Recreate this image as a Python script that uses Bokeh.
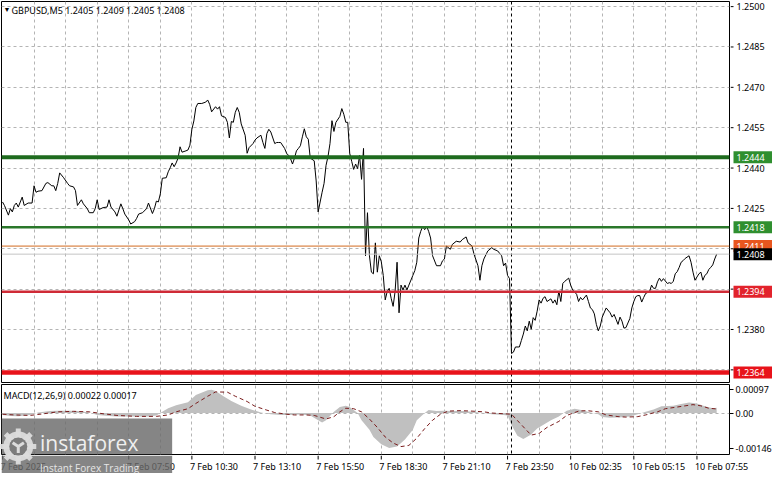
from bokeh.plotting import figure
from bokeh.models import Range1d, Label, Span, FixedTicker, BoxAnnotation
from bokeh.layouts import column, row
from bokeh.core.properties import value
from bokeh.embed import file_html
from bokeh.resources import INLINE

FONT = "Noto Sans"
FS = "9px"

chart_title = "GBPUSD,M5  1.2405 1.2409 1.2405 1.2408"
macd_title = "MACD(12,26,9) 0.00022 0.00017"

# ---- price line (bar index, close) ----
bars = [0, 1, 3, 4, 5, 6, 7, 8, 10, 11, 13, 15, 16, 17, 18, 20, 22, 23, 25, 26, 27, 28, 29, 31, 33, 34, 36, 37, 38,
        40, 41, 43, 44, 46, 47, 48, 49, 51, 53, 54, 55, 57, 58, 60, 61, 62, 64, 65, 67, 68, 69, 71, 73, 74, 76, 77,
        78, 79, 80, 81, 83, 84, 85, 86, 87, 88, 89, 90, 91, 93, 94, 95, 96, 97, 98, 99, 101, 103, 104, 105, 106,
        108, 109, 110, 111, 113, 114, 115, 116, 117, 118, 119, 120, 121, 123, 124, 125, 127, 128, 129, 131, 132,
        133, 134, 135, 136, 138, 139, 140, 141, 143, 144, 145, 146, 147, 148, 149, 150, 151, 152, 153, 154, 155,
        156, 158, 159, 160, 162, 163, 164, 165, 166, 167, 168, 169, 171, 172, 173, 174, 175, 176, 177, 178, 179,
        180, 181, 182, 183, 184, 185, 186, 187, 188, 189, 190, 191, 192, 193, 194, 195, 196, 197, 198, 199, 200,
        201, 202, 203, 204, 205, 206, 208, 209, 210, 211, 212, 213, 214, 215, 216, 217, 218, 220, 222, 223, 224,
        225, 227, 228, 230, 232, 233, 235, 236, 238, 239, 241, 242, 243, 244, 246, 248, 249, 251, 253, 254, 255,
        256, 257, 258, 259, 260, 262, 263, 264, 265, 266, 267, 268, 269, 270, 271, 272, 273, 274, 275, 276, 278,
        279, 280, 281, 282, 283, 284, 285, 287, 288, 289, 291, 292, 293, 294, 296, 297, 298, 299, 300, 301, 302,
        303, 304, 306, 308, 309, 310, 311, 312, 313, 314, 315, 316, 318, 319, 320, 321, 322, 323, 324, 325, 326,
        328, 329, 330, 331, 332, 333, 334, 335, 337, 338, 339, 340, 341, 342, 343, 344, 345, 346, 348, 349, 350,
        351, 352, 353, 354, 355, 356, 357, 358, 359, 360, 361, 362]
close = [1.24274, 1.24261, 1.24225, 1.24249, 1.24237, 1.24261, 1.24270, 1.24255, 1.24292, 1.24261, 1.24270,
         1.24270, 1.24334, 1.24310, 1.24314, 1.24316, 1.24343, 1.24346, 1.24334, 1.24334, 1.24316, 1.24343,
         1.24382, 1.24364, 1.24343, 1.24334, 1.24330, 1.24316, 1.24261, 1.24282, 1.24267, 1.24249, 1.24234,
         1.24234, 1.24249, 1.24282, 1.24246, 1.24253, 1.24255, 1.24282, 1.24255, 1.24237, 1.24221, 1.24267,
         1.24249, 1.24229, 1.24207, 1.24192, 1.24201, 1.24213, 1.24229, 1.24234, 1.24249, 1.24270, 1.24231,
         1.24249, 1.24277, 1.24274, 1.24304, 1.24362, 1.24364, 1.24386, 1.24401, 1.24419, 1.24405, 1.24419,
         1.24437, 1.24479, 1.24459, 1.24464, 1.24467, 1.24485, 1.24544, 1.24575, 1.24625, 1.24640, 1.24640,
         1.24645, 1.24653, 1.24637, 1.24609, 1.24628, 1.24619, 1.24628, 1.24594, 1.24588, 1.24570, 1.24512,
         1.24573, 1.24570, 1.24607, 1.24625, 1.24607, 1.24564, 1.24522, 1.24455, 1.24476, 1.24491, 1.24504,
         1.24512, 1.24522, 1.24495, 1.24473, 1.24528, 1.24544, 1.24534, 1.24491, 1.24495, 1.24495, 1.24495,
         1.24473, 1.24455, 1.24447, 1.24435, 1.24415, 1.24437, 1.24464, 1.24473, 1.24483, 1.24516, 1.24546,
         1.24516, 1.24507, 1.24437, 1.24427, 1.24352, 1.24237, 1.24310, 1.24343, 1.24410, 1.24443, 1.24491,
         1.24576, 1.24536, 1.24570, 1.24592, 1.24621, 1.24600, 1.24570, 1.24570, 1.24455, 1.24425, 1.24395,
         1.24415, 1.24398, 1.24447, 1.24358, 1.24473, 1.24074, 1.24234, 1.24074, 1.24013, 1.24007, 1.24122,
         1.24013, 1.24074, 1.24052, 1.24001, 1.23910, 1.23941, 1.23953, 1.23916, 1.23886, 1.23941, 1.24050,
         1.23862, 1.23965, 1.23947, 1.23965, 1.23947, 1.23965, 1.24001, 1.24019, 1.24050, 1.24140, 1.24165,
         1.24183, 1.24171, 1.24183, 1.24165, 1.24140, 1.24074, 1.24037, 1.24037, 1.24055, 1.24062, 1.24110,
         1.24098, 1.24116, 1.24128, 1.24125, 1.24134, 1.24144, 1.24122, 1.24110, 1.24080, 1.24037, 1.23983,
         1.24037, 1.24062, 1.24092, 1.24104, 1.24098, 1.24092, 1.24074, 1.24037, 1.24047, 1.24001, 1.23989,
         1.23711, 1.23716, 1.23735, 1.23735, 1.23759, 1.23783, 1.23813, 1.23795, 1.23831, 1.23801, 1.23844,
         1.23834, 1.23868, 1.23910, 1.23898, 1.23916, 1.23922, 1.23904, 1.23914, 1.23898, 1.23910, 1.23892,
         1.23943, 1.23904, 1.23971, 1.23979, 1.23991, 1.23965, 1.23947, 1.23931, 1.23904, 1.23919, 1.23910,
         1.23928, 1.23904, 1.23880, 1.23874, 1.23858, 1.23819, 1.23795, 1.23813, 1.23846, 1.23880, 1.23862,
         1.23846, 1.23856, 1.23838, 1.23819, 1.23846, 1.23831, 1.23805, 1.23807, 1.23841, 1.23880, 1.23904,
         1.23922, 1.23926, 1.23926, 1.23902, 1.23919, 1.23934, 1.23941, 1.23965, 1.23953, 1.23953, 1.23977,
         1.23991, 1.23979, 1.23989, 1.23971, 1.23974, 1.23971, 1.23979, 1.24007, 1.24015, 1.24031, 1.24050,
         1.24056, 1.24064, 1.24074, 1.24050, 1.24013, 1.23983, 1.23995, 1.24007, 1.24013, 1.23983, 1.24001,
         1.24007, 1.24023, 1.24031, 1.24040, 1.24062, 1.24080]

# ---- MACD main (histogram) ----
macd_bars = [0, 4, 8, 14, 18, 24, 28, 34, 38, 44, 48, 54, 58, 64, 68, 74, 78, 81, 84, 88, 94, 98, 104, 106, 108,
             112, 116, 121, 126, 131, 136, 141, 146, 151, 156, 160, 162, 164, 168, 171, 174, 176, 180, 182, 186,
             188, 192, 196, 200, 204, 208, 210, 214, 216, 220, 224, 228, 234, 238, 244, 248, 254, 256, 258, 261,
             264, 268, 271, 274, 278, 282, 286, 290, 294, 298, 302, 304, 308, 314, 318, 322, 326, 330, 334, 340,
             344, 348, 352, 356, 360, 362]
macd_main = [-0.00008, -0.00012, -0.00013, -0.00008, 0.00002, 0.00008, 0.00010, 0.00010, 0.00008, 0.00002,
             -0.00008, -0.00012, -0.00014, -0.00015, -0.00014, -0.00014, -0.00010, 0.00005, 0.00020, 0.00032,
             0.00045, 0.00075, 0.00095, 0.00097, 0.00092, 0.00070, 0.00050, 0.00030, 0.00015, 0.00002,
             -0.00005, -0.00008, -0.00008, -0.00006, -0.00010, -0.00030, -0.00040, -0.00030, 0.00005, 0.00025,
             0.00030, 0.00025, 0.00000, -0.00030, -0.00070, -0.00100, -0.00130, -0.00146, -0.00140, -0.00110,
             -0.00070, -0.00030, 0.00000, 0.00013, 0.00008, 0.00010, 0.00008, 0.00008, 0.00005, 0.00000,
             -0.00005, -0.00008, -0.00010, -0.00050, -0.00095, -0.00108, -0.00090, -0.00065, -0.00050, -0.00030,
             -0.00014, 0.00010, 0.00018, 0.00012, 0.00002, -0.00005, -0.00017, -0.00020, -0.00018, -0.00015,
             -0.00005, 0.00005, 0.00015, 0.00028, 0.00030, 0.00038, 0.00044, 0.00040, 0.00028, 0.00020, 0.00022]

# ---- MACD signal ----
sig_bars = [0, 6, 14, 21, 28, 36, 44, 51, 58, 68, 78, 84, 88, 94, 98, 104, 108, 114, 118, 124, 128, 134, 138, 144,
            148, 154, 158, 164, 168, 171, 174, 178, 182, 186, 190, 194, 198, 202, 206, 210, 214, 218, 222, 226,
            232, 238, 244, 248, 254, 258, 262, 266, 268, 272, 276, 282, 286, 292, 296, 302, 306, 312, 316, 322,
            326, 332, 336, 342, 346, 350, 354, 358, 362]
macd_signal = [-0.00005, -0.00008, -0.00010, -0.00003, 0.00005, 0.00007, 0.00005, -0.00003, -0.00010, -0.00014,
               -0.00014, -0.00008, 0.00005, 0.00018, 0.00040, 0.00070, 0.00088, 0.00087, 0.00070, 0.00048,
               0.00028, 0.00012, 0.00002, -0.00005, -0.00008, -0.00008, -0.00010, -0.00025, -0.00015, 0.00005,
               0.00020, 0.00018, 0.00005, -0.00025, -0.00060, -0.00100, -0.00125, -0.00140, -0.00135, -0.00105,
               -0.00065, -0.00030, -0.00005, 0.00008, 0.00010, 0.00008, 0.00005, 0.00000, -0.00003, -0.00005,
               -0.00040, -0.00075, -0.00092, -0.00085, -0.00060, -0.00035, -0.00010, 0.00008, 0.00010, 0.00005,
               -0.00008, -0.00015, -0.00017, -0.00015, -0.00008, 0.00005, 0.00018, 0.00025, 0.00030, 0.00035,
               0.00030, 0.00020, 0.00017]

# ---- horizontal levels ----
level_prices = [1.2444, 1.2418, 1.2411, 1.2408, 1.2394, 1.2364]
level_texts = ["1.2444", "1.2418", "1.2411", "1.2408", "1.2394", "1.2364"]
level_line_colors = ["#1e6b1e", "#2a772a", "#d2691e", "#c4c4c4", "#cf2a36", "#e8121a"]
level_line_widths = [4, 2.5, 1, 1, 2.5, 4.5]
level_box_colors = ["#2f8f2f", "#2f8f2f", "#e8561f", "#000000", "#e2232c", "#e8121a"]

price_ticks = [1.2500, 1.2485, 1.2470, 1.2455, 1.2440, 1.2425, 1.2380]
price_tick_texts = ["1.2500", "1.2485", "1.2470", "1.2455", "1.2440", "1.2425", "1.2380"]
price_grid = [1.2500, 1.2485, 1.2470, 1.2455, 1.2440, 1.2425, 1.2410, 1.2395, 1.2380, 1.2365]
macd_ticks = [0.00097, 0.0, -0.00146]
macd_tick_texts = ["0.00097", "0.00", "-0.00146"]

time_bars = [0, 64, 96, 128, 160, 192, 224, 256, 288, 320, 352]
time_texts = ["7 Feb 2025", "7 Feb 07:50", "7 Feb 10:30", "7 Feb 13:10", "7 Feb 15:50", "7 Feb 18:30",
              "7 Feb 21:10", "7 Feb 23:50", "10 Feb 02:35", "10 Feb 05:15", "10 Feb 07:55"]
grid_bars = [16 * k for k in range(1, 23)]
separator_bar = 258

X0, X1 = -0.5, 368.5
P0, P1 = 1.23603, 1.25019
M0, M1 = -0.00173, 0.00119

GRID = "#b4b4b4"
FW = 728            # chart frame width in px
RW = 43             # right scale width in px
TH = 18             # time strip height in px
LOGO_FILL = "#6a6a6a"
LOGO_ALPHA = 0.82
ICON = "#dcdcdc"


def base_fig(**kw):
    p = figure(output_backend="svg", toolbar_location=None, **kw)
    p.background_fill_color = "white"
    p.border_fill_color = "white"
    return p


def chart_style(p):
    p.outline_line_color = "black"
    p.outline_line_alpha = 1.0
    p.outline_line_width = 1
    for g in p.xgrid:
        g.ticker = FixedTicker(ticks=grid_bars)
        g.grid_line_color = GRID
        g.grid_line_dash = "3 3"
    for g in p.ygrid:
        g.grid_line_color = GRID
        g.grid_line_dash = "3 3"
    p.add_layout(Span(location=separator_bar, dimension="height", line_color="black",
                      line_dash="3 3", line_width=1))


def draw_icon(p, cx, cy):
    # gear-like emblem of the watermark, sized in screen pixels
    p.scatter(x=cx, y=cy, marker="asterisk", size=36, line_color=ICON, line_width=5,
              line_alpha=0.95, level="overlay")
    p.annulus(x=cx, y=cy, inner_radius=9, outer_radius=15, inner_radius_units="screen",
              outer_radius_units="screen", fill_color=ICON, fill_alpha=0.95, line_color=None,
              level="overlay")
    p.circle(x=cx, y=cy, radius=9, radius_units="screen", fill_color="#7c7c7c", fill_alpha=1.0,
             line_color=None, level="overlay")
    p.scatter(x=cx, y=cy, marker="y", size=13, line_color=ICON, line_width=3, level="overlay")


# ---------------- main price panel ----------------
p1 = base_fig(frame_width=FW, frame_height=381, x_range=Range1d(X0, X1), y_range=Range1d(P0, P1),
              x_axis_location=None, y_axis_location=None,
              min_border_left=1, min_border_right=1, min_border_top=1, min_border_bottom=1)
chart_style(p1)
for g in p1.ygrid:
    g.ticker = FixedTicker(ticks=price_grid)

p1.line(bars, close, line_color="black", line_width=1)

for pr, lc, lw in zip(level_prices, level_line_colors, level_line_widths):
    p1.add_layout(Span(location=pr, dimension="width", line_color=lc, line_width=lw))

p1.add_layout(Label(x=X0, y=P1, x_offset=2, y_offset=-3, text="\u25bc", text_font=FONT,
                    text_font_size="7px", text_color="black", text_baseline="top"))
p1.add_layout(Label(x=X0, y=P1, x_offset=10, y_offset=-2, text=chart_title, text_font=FONT,
                    text_font_size=FS, text_color="black", text_baseline="top"))

# ---------------- price scale strip (right of main panel) ----------------
pr_ax = base_fig(frame_width=RW - 1, frame_height=381, x_range=Range1d(0, RW - 1), y_range=p1.y_range,
                 x_axis_location=None, y_axis_location=None,
                 min_border_left=0, min_border_right=0, min_border_top=1, min_border_bottom=1)
pr_ax.outline_line_color = None
pr_ax.grid.visible = False
pr_ax.segment(x0=0, y0=price_grid, x1=3, y1=price_grid, line_color="black", line_width=1)
pr_ax.text(x=6, y=price_ticks, text=price_tick_texts, text_font=value(FONT), text_font_size=FS,
           text_color="black", text_baseline="middle", text_align="left")
for pr, txt, bc in zip(level_prices, level_texts, level_box_colors):
    pr_ax.rect(x=22.5, y=[pr], width=39, height=12, height_units="screen",
               fill_color=bc, line_color=None)
    pr_ax.text(x=6, y=[pr], text=[txt], text_font=value(FONT), text_font_size=FS,
               text_color="white", text_baseline="middle", text_align="left")

# ---------------- MACD panel ----------------
p2 = base_fig(frame_width=FW, frame_height=70, x_range=p1.x_range, y_range=Range1d(M0, M1),
              x_axis_location=None, y_axis_location="right",
              min_border_left=1, min_border_right=RW, min_border_top=1, min_border_bottom=1)
chart_style(p2)
ya = p2.yaxis[0]
ya.ticker = FixedTicker(ticks=macd_ticks)
ya.major_label_overrides = {t: s for t, s in zip(macd_ticks, macd_tick_texts)}
ya.major_label_text_font = FONT
ya.major_label_text_font_size = FS
ya.major_label_text_color = "black"
ya.major_tick_out = 4
ya.major_tick_in = 0
ya.minor_tick_out = 0
ya.minor_tick_in = 0
ya.axis_line_color = None
ya.major_tick_line_color = "black"
ya.major_label_standoff = 2
for g in p2.ygrid:
    g.ticker = FixedTicker(ticks=[0.0])

p2.varea(x=macd_bars, y1=0, y2=macd_main, fill_color="#c0c0c0", fill_alpha=1.0)
p2.line(sig_bars, macd_signal, line_color="#7a1c1c", line_width=1, line_dash="4 3")

p2.add_layout(Label(x=X0, y=M1, x_offset=2, y_offset=-4, text=macd_title, text_font=FONT,
                    text_font_size=FS, text_color="black", text_baseline="top"))

# ---------------- time scale strip (full width, same bar scale) ----------------
bars_per_px = (X1 - X0) / FW
px = base_fig(frame_width=FW + RW, frame_height=TH, x_range=Range1d(X0, X1 + RW * bars_per_px),
              y_range=Range1d(0, TH), x_axis_location=None, y_axis_location=None,
              min_border_left=1, min_border_right=0, min_border_top=0, min_border_bottom=0)
px.outline_line_color = None
px.grid.visible = False
px.segment(x0=time_bars, y0=TH, x1=time_bars, y1=TH - 4, line_color="black", line_width=1)
px.text(x=time_bars, y=TH - 4, text=time_texts, x_offset=-2, text_font=value(FONT), text_font_size=FS,
        text_color="black", text_baseline="top", text_align="left")

# ---------------- watermark logo (spans MACD bottom and time strip) ----------------
p2.add_layout(BoxAnnotation(left=X0, right=86, top=-0.00023, fill_color=LOGO_FILL,
                            fill_alpha=LOGO_ALPHA, line_color=None))
px.add_layout(BoxAnnotation(left=X0, right=86, fill_color=LOGO_FILL, fill_alpha=LOGO_ALPHA,
                            line_color=None))
draw_icon(p2, 8.0, -0.00140)
draw_icon(px, 8.0, TH + 9)
p2.add_layout(Label(x=19, y=-0.00127, text="instaforex", text_font="Open Sans", text_font_size="21px",
                    text_color="#efefef", text_baseline="alphabetic"))
px.add_layout(Label(x=19, y=6, text="Instant Forex Trading", text_font="Open Sans",
                    text_font_size="10px", text_color="#e6e6e6", text_baseline="alphabetic"))

layout = column(row(p1, pr_ax, spacing=0), p2, px, spacing=0)
open("out.html", "w").write(file_html(layout, INLINE))
